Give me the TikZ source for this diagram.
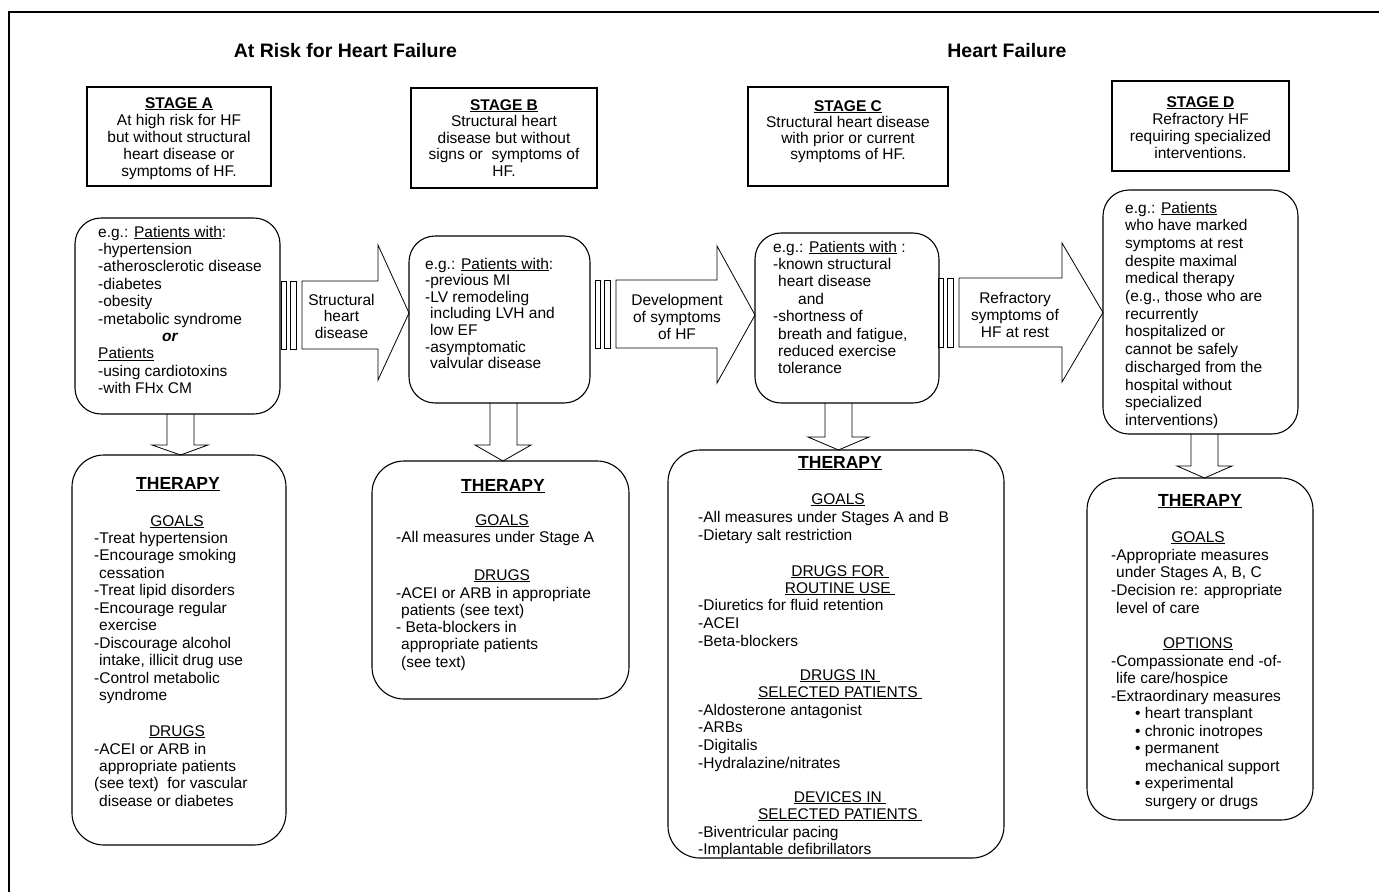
\documentclass[tikz,border=0pt]{standalone}
\usepackage{fontspec}
\setmainfont{Liberation Sans}
\newcommand\fsz[1]{\fontsize{15.5pt}{#1}\selectfont}
\newcommand\ind{\hspace*{5pt}}
\begin{document}
\begin{tikzpicture}[x=1pt,y=-1pt,
  stagebox/.style={draw, line width=1.4pt, inner sep=0, outer sep=0},
  roundbox/.style={draw, line width=1.1pt, rounded corners=26pt, inner sep=0, outer sep=0},
  therbox/.style={draw, line width=1.1pt, rounded corners=32pt, inner sep=0, outer sep=0},
  barrow/.style={draw, line width=0.8pt, line join=miter},
  lst/.style={inner sep=0, anchor=base west},
  ctr/.style={inner sep=0, anchor=base},
  hd/.style={inner sep=0, anchor=base, font=\fontsize{17.5pt}{20pt}\selectfont\bfseries},
  ttl/.style={inner sep=0, anchor=base, font=\fontsize{19.5pt}{22pt}\selectfont\bfseries}
]
\useasboundingbox (0,0) rectangle (1379,892);
\fill[white] (0,0) rectangle (1379,892);
% frame
\draw[line width=1.3pt] (9,892) -- (9,12) -- (1379,12);

% titles
\node[ttl] (t1) at (345.5,57) {At Risk for Heart Failure};
\node[ttl] (t2) at (1007,57) {Heart Failure};

% stage boxes
\node[stagebox, minimum width=184pt, minimum height=99pt] (sA) at (179,136.5) {};
\node[stagebox, minimum width=186pt, minimum height=100pt] (sB) at (504,138) {};
\node[stagebox, minimum width=200pt, minimum height=99pt] (sC) at (848,136.5) {};
\node[stagebox, minimum width=177pt, minimum height=90pt] (sD) at (1200.5,126) {};

\node[ctr] (tA) at (179,108) {\parbox[t]{180pt}{\fsz{17pt}\centering\textbf{\underline{STAGE A}}\\At high risk for HF\\but without structural\\heart disease or\\symptoms of HF.}};
\node[ctr] (tB) at (504,110) {\parbox[t]{180pt}{\fsz{16.5pt}\centering\textbf{\underline{STAGE B}}\\Structural heart\\disease but without\\signs or\ \ symptoms of\\HF.}};
\node[ctr] (tC) at (848,111) {\parbox[t]{196pt}{\fsz{16pt}\centering\textbf{\underline{STAGE C}}\\Structural heart disease\\with prior or current\\symptoms of HF.}};
\node[ctr] (tD) at (1200.5,107) {\parbox[t]{174pt}{\fsz{17pt}\centering\textbf{\underline{STAGE D}}\\Refractory HF\\requiring specialized\\interventions.}};

% patient boxes
\node[roundbox, minimum width=205pt, minimum height=196pt] (pA) at (177.5,316) {};
\node[roundbox, minimum width=181pt, minimum height=167pt] (pB) at (499.5,319.5) {};
\node[roundbox, minimum width=184pt, minimum height=170pt] (pC) at (847,318) {};
\node[roundbox, minimum width=195pt, minimum height=244pt] (pD) at (1200.5,312) {};

\node[lst] (xA) at (98,237) {\parbox[t]{200pt}{\fsz{17.4pt}\raggedright e.g.: \underline{Patients with}:\\-hypertension\\-atherosclerotic disease\\-diabetes\\-obesity\\-metabolic syndrome\\\hspace*{64pt}\textbf{\textit{or}}\\\underline{Patients}\\-using cardiotoxins\\-with FHx CM}};
\node[lst] (xB) at (425,269) {\parbox[t]{170pt}{\fsz{16.6pt}\raggedright e.g.: \underline{Patients with}:\\-previous MI\\-LV remodeling\\\ind including LVH and\\\ind low EF\\-asymptomatic\\\ind valvular disease}};
\node[lst] (xC) at (773,252) {\parbox[t]{170pt}{\fsz{17.4pt}\raggedright e.g.: \underline{Patients with} :\\-known structural\\\ind heart disease\\\hspace*{25pt}and\\-shortness of\\\ind breath and fatigue,\\\ind reduced exercise\\\ind tolerance}};
\node[lst] (xD) at (1125,213) {\parbox[t]{180pt}{\fsz{17.7pt}\raggedright e.g.: \underline{Patients}\\who have marked\\symptoms at rest\\despite maximal\\medical therapy\\(e.g., those who are\\recurrently\\hospitalized or\\cannot be safely\\discharged from the\\hospital without\\specialized\\interventions)}};

% striped block arrows
\draw[barrow] (281,281) rectangle (286,349);
\draw[barrow] (290,281) rectangle (296,349);
\draw[barrow] (302,281) -- (378,281) -- (378,245) -- (pB.west |- 0,313) -- (378,380) -- (378,349) -- (302,349) -- cycle;
\node[ctr] (l1) at (341.5,305) {\parbox[t]{90pt}{\fsz{16.5pt}\centering Structural\\heart\\disease}};

\draw[barrow] (595,280) rectangle (600,348);
\draw[barrow] (604,280) rectangle (610,348);
\draw[barrow] (616,280) -- (717,280) -- (717,246) -- (pC.west |- 0,315) -- (717,383) -- (717,348) -- (616,348) -- cycle;
\node[ctr] (l2) at (677,305) {\parbox[t]{100pt}{\fsz{17pt}\centering Development\\of symptoms\\of HF}};

\draw[barrow] (938,278) rectangle (943,347);
\draw[barrow] (947,278) rectangle (953,347);
\draw[barrow] (959,278) -- (1062,278) -- (1062,243) -- (pD.west |- 0,312.5) -- (1062,382) -- (1062,347) -- (959,347) -- cycle;
\node[ctr] (l3) at (1015,303) {\parbox[t]{100pt}{\fsz{17pt}\centering Refractory\\symptoms of\\HF at rest}};

% therapy boxes
\node[therbox, minimum width=214pt, minimum height=390pt] (thA) at (179,650) {};
\node[therbox, minimum width=257pt, minimum height=238pt] (thB) at (500.5,580) {};
\node[therbox, minimum width=336pt, minimum height=408pt] (thC) at (836,654) {};
\node[therbox, minimum width=226pt, minimum height=342pt] (thD) at (1200,649) {};

% down arrows
\draw[barrow] (167,414) -- (167,445) -- (152,445) -- (180.5,455) -- (208,445) -- (194,445) -- (194,414);
\draw[barrow] (490,403) -- (490,445) -- (475,445) -- (503,461) -- (531,445) -- (517,445) -- (517,403);
\draw[barrow] (825,403) -- (825,437) -- (808,437) -- (838.5,450) -- (869,437) -- (852,437) -- (852,403);
\draw[barrow] (1191,434) -- (1191,466) -- (1177,466) -- (1204.5,478) -- (1232,466) -- (1218,466) -- (1218,434);

% therapy A
\node[hd] (hA) at (178,489) {\underline{THERAPY}};
\node[ctr] (gA) at (177,526) {\fsz{17pt}\underline{GOALS}};
\node[lst] (gAl) at (94,543) {\parbox[t]{190pt}{\fsz{17.5pt}\raggedright -Treat hypertension\\-Encourage smoking\\\ind cessation\\-Treat lipid disorders\\-Encourage regular\\\ind exercise\\-Discourage alcohol\\\ind intake, illicit drug use\\-Control metabolic\\\ind syndrome}};
\node[ctr] (dA) at (177,736) {\fsz{17pt}\underline{DRUGS}};
\node[lst] (dAl) at (94,754) {\parbox[t]{190pt}{\fsz{17.4pt}\raggedright -ACEI or ARB in\\\ind appropriate patients\\(see text)\ \ for vascular\\\ind disease or diabetes}};

% therapy B
\node[hd] (hB) at (503,491) {\underline{THERAPY}};
\node[ctr] (gB) at (502,525) {\fsz{17pt}\underline{GOALS}};
\node[lst] (gBl) at (396,542) {\fsz{17pt}-All measures under Stage A};
\node[ctr] (dB) at (502,580) {\fsz{17pt}\underline{DRUGS}};
\node[lst] (dBl) at (396,598) {\parbox[t]{230pt}{\fsz{17.3pt}\raggedright -ACEI or ARB in appropriate\\\ind patients (see text)\\- Beta-blockers in\\\ind appropriate patients\\\ind (see text)}};

% therapy C
\node[hd] (hC) at (840,468) {\underline{THERAPY}};
\node[ctr] (gC) at (838,504) {\fsz{17pt}\underline{GOALS}};
\node[lst] (gCl) at (698,522) {\parbox[t]{300pt}{\fsz{18pt}\raggedright -All measures under Stages A and B\\-Dietary salt restriction}};
\node[ctr] (dC1) at (840,576) {\parbox[t]{200pt}{\fsz{17pt}\centering\underline{DRUGS FOR }\\\underline{ROUTINE USE }}};
\node[lst] (dC1l) at (698,610) {\parbox[t]{300pt}{\fsz{18pt}\raggedright -Diuretics for fluid retention\\-ACEI\\-Beta-blockers}};
\node[ctr] (dC2) at (840,680) {\parbox[t]{200pt}{\fsz{17pt}\centering\underline{DRUGS IN }\\\underline{SELECTED PATIENTS }}};
\node[lst] (dC2l) at (698,715) {\parbox[t]{300pt}{\fsz{17.7pt}\raggedright -Aldosterone antagonist\\-ARBs\\-Digitalis\\-Hydralazine/nitrates}};
\node[ctr] (dC3) at (840,802) {\parbox[t]{200pt}{\fsz{17pt}\centering\underline{DEVICES IN }\\\underline{SELECTED PATIENTS }}};
\node[lst] (dC3l) at (698,837) {\parbox[t]{300pt}{\fsz{17pt}\raggedright -Biventricular pacing\\-Implantable defibrillators}};

% therapy D
\node[hd] (hD) at (1200,506) {\underline{THERAPY}};
\node[ctr] (gD) at (1198,542) {\fsz{17pt}\underline{GOALS}};
\node[lst] (gDl) at (1111,560) {\parbox[t]{200pt}{\fsz{17.7pt}\raggedright -Appropriate measures\\\ind under Stages A, B, C\\-Decision re: appropriate\\\ind level of care}};
\node[ctr] (oD) at (1198,648) {\fsz{17pt}\underline{OPTIONS}};
\node[lst] (oDl) at (1111,666) {\parbox[t]{200pt}{\fsz{17.5pt}\raggedright -Compassionate end -of-\\\ind life care/hospice\\-Extraordinary measures\\\hspace*{24pt}\textbullet\ heart transplant\\\hspace*{24pt}\textbullet\ chronic inotropes\\\hspace*{24pt}\textbullet\ permanent\\\hspace*{34pt}mechanical support\\\hspace*{24pt}\textbullet\ experimental\\\hspace*{34pt}surgery or drugs}};
\end{tikzpicture}
\end{document}
